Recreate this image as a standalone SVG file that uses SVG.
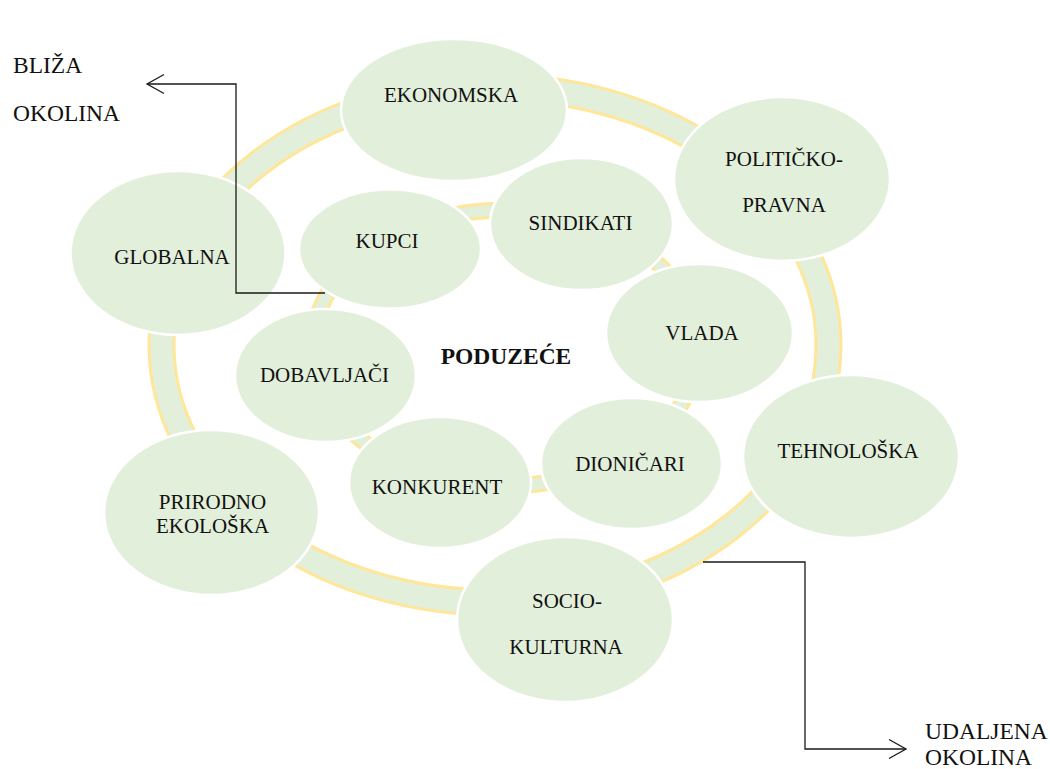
<svg xmlns="http://www.w3.org/2000/svg" width="1050" height="769" viewBox="0 0 1050 769">
  <defs>
    <style>
      .ring { fill: #E2EFDA; stroke: #FFE699; stroke-width: 3; fill-rule: evenodd; }
      .node { fill: #E2EFDA; stroke: #FFFFFF; stroke-width: 2.5; }
      .t { font-family: "Liberation Serif", "Times New Roman", serif; font-size: 21px; fill: #111; text-anchor: middle; }
      .lbl { font-family: "Liberation Serif", "Times New Roman", serif; font-size: 23.5px; fill: #111; }
      .center { font-family: "Liberation Serif", "Times New Roman", serif; font-size: 23.5px; font-weight: bold; fill: #111; text-anchor: middle; }
      .conn { fill: none; stroke: #1a1a1a; stroke-width: 1.3; }
    </style>
    <marker id="open" viewBox="-19 -11 21 22" refX="0" refY="0" markerWidth="21" markerHeight="22" markerUnits="userSpaceOnUse" orient="auto" overflow="visible">
      <polyline points="-17,-9.5 0,0 -17,9.5" fill="none" stroke="#1a1a1a" stroke-width="1.3"/>
    </marker>
  </defs>

  <rect width="1050" height="769" fill="#FFFFFF"/>

  <g id="rings">
    <path class="ring" d="M149,345 a346,270 0 1,0 692,0 a346,270 0 1,0 -692,0 Z M174,345 a321,245 0 1,0 642,0 a321,245 0 1,0 -642,0 Z"/>
    <path class="ring" d="M305,348 a200,145 0 1,0 400,0 a200,145 0 1,0 -400,0 Z M319,348 a186,131 0 1,0 372,0 a186,131 0 1,0 -372,0 Z"/>
  </g>

  <g id="node-ekonomska">
    <ellipse class="node" cx="454" cy="110" rx="113" ry="71"/>
    <text class="t" x="451" y="102">EKONOMSKA</text>
  </g>
  <g id="node-politicko-pravna">
    <ellipse class="node" cx="782" cy="179" rx="108" ry="82"/>
    <text class="t" x="784" y="166">POLITIČKO-</text>
    <text class="t" x="784" y="212">PRAVNA</text>
  </g>
  <g id="node-tehnoloska">
    <ellipse class="node" cx="851" cy="456.5" rx="108" ry="81.5"/>
    <text class="t" x="848" y="458">TEHNOLOŠKA</text>
  </g>
  <g id="node-socio-kulturna">
    <ellipse class="node" cx="565" cy="619.5" rx="108" ry="82.5"/>
    <text class="t" x="567" y="608">SOCIO-</text>
    <text class="t" x="566" y="654">KULTURNA</text>
  </g>
  <g id="node-prirodno-ekoloska">
    <ellipse class="node" cx="211.5" cy="512.5" rx="107.5" ry="82.5"/>
    <text class="t" x="212.5" y="509">PRIRODNO</text>
    <text class="t" x="212.5" y="533">EKOLOŠKA</text>
  </g>
  <g id="node-globalna">
    <ellipse class="node" cx="178" cy="253" rx="107.5" ry="82"/>
    <text class="t" x="172" y="264">GLOBALNA</text>
  </g>

  <g id="node-kupci">
    <ellipse class="node" cx="390" cy="249" rx="91" ry="59.5"/>
    <text class="t" x="387" y="248">KUPCI</text>
  </g>
  <g id="node-sindikati">
    <ellipse class="node" cx="581.5" cy="224" rx="91.5" ry="66"/>
    <text class="t" x="580.5" y="230">SINDIKATI</text>
  </g>
  <g id="node-vlada">
    <ellipse class="node" cx="699.5" cy="333" rx="93.5" ry="69"/>
    <text class="t" x="702" y="340">VLADA</text>
  </g>
  <g id="node-dionicari">
    <ellipse class="node" cx="631.5" cy="463.5" rx="90.5" ry="65.5"/>
    <text class="t" x="630" y="471">DIONIČARI</text>
  </g>
  <g id="node-dobavljaci">
    <ellipse class="node" cx="325.5" cy="375.5" rx="90.5" ry="66.5"/>
    <text class="t" x="324.5" y="382">DOBAVLJAČI</text>
  </g>
  <g id="node-konkurent">
    <ellipse class="node" cx="440" cy="482.5" rx="91" ry="65.5"/>
    <text class="t" x="437" y="494">KONKURENT</text>
  </g>

  <g id="node-poduzece">
    <text class="center" x="506" y="364">PODUZEĆE</text>
  </g>

  <g id="connectors">
    <path class="conn" d="M325,293 H236 V84 H147" marker-end="url(#open)"/>
    <path class="conn" d="M703,562 H805 V749 H906" marker-end="url(#open)"/>
  </g>

  <g id="labels">
    <text class="lbl" x="13" y="73">BLIŽA</text>
    <text class="lbl" x="13" y="121">OKOLINA</text>
    <text class="lbl" x="925" y="739">UDALJENA</text>
    <text class="lbl" x="925" y="765">OKOLINA</text>
  </g>
</svg>
